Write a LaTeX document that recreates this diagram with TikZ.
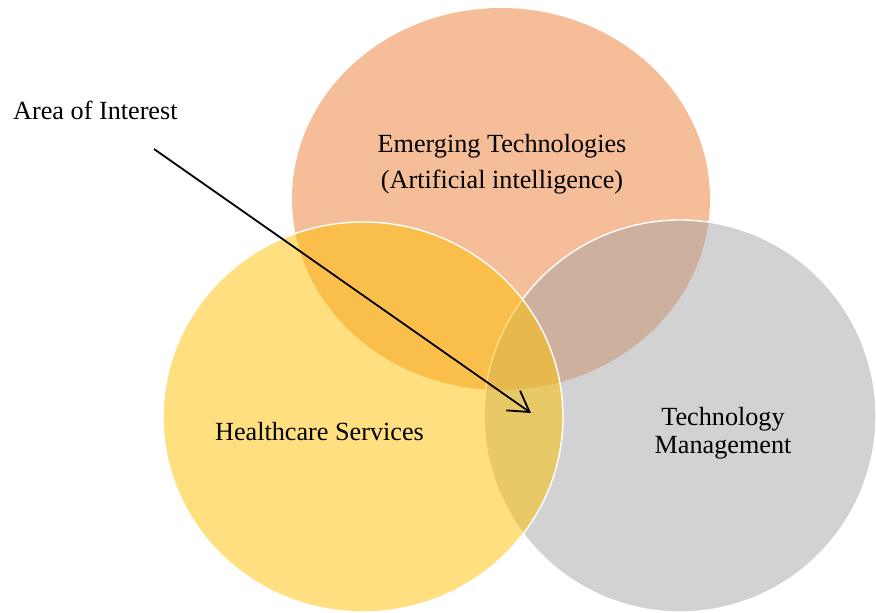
\documentclass[tikz,border=0pt]{standalone}
\usepackage{fontspec}
\setmainfont{Liberation Serif}
\usetikzlibrary{arrows.meta}
\definecolor{emergcol}{HTML}{ED7D31}
\definecolor{healthcol}{HTML}{FFC000}
\definecolor{techcol}{HTML}{A5A5A5}
\newcommand{\vennset}[6]{ \draw[fill=#5, fill opacity=0.5, draw=#6, line width=1.4pt] ( #1 , #2 ) ellipse [x radius=#3pt, y radius=#4pt];}
\newcommand{\vennfont}[1]{\fontsize{26.2}{#1}\selectfont}

\begin{document}
\begin{tikzpicture}[x=1pt, y=-1pt,
    lbl/.style={inner sep=0pt, text=black, align=center},
    pointer/.style={-{Straight Barb[length=20pt,width=24pt]}, line width=1.8pt, black}]
        \useasboundingbox (0,0) rectangle (876,613);
        % sets
        \vennset{501}{199}{209}{191}{emergcol}{none}
        \vennset{680}{416}{196}{196}{techcol}{white}
        \vennset{363}{417}{200}{195}{healthcol}{white}
        % labels (base = last line)
        \node[lbl, font=\vennfont{31}, anchor=base west] (aoi) at (13,119) {Area of Interest};
        \node[lbl, font=\vennfont{36}, anchor=base] (emerg) at (502,188) {Emerging Technologies\\ (Artificial intelligence)};
        \node[lbl, font=\vennfont{31}, anchor=base] (health) at (319.5,440) {Healthcare Services};
        \node[lbl, font=\vennfont{28}, anchor=base] (techm) at (723,453) {Technology\\Management};
        % pointer to the overlap
        \coordinate (aoitail) at (154,149);
        \coordinate (aoitip) at (531,413);
        \draw[pointer] (aoitail) -- (aoitip);
\end{tikzpicture}
\end{document}
